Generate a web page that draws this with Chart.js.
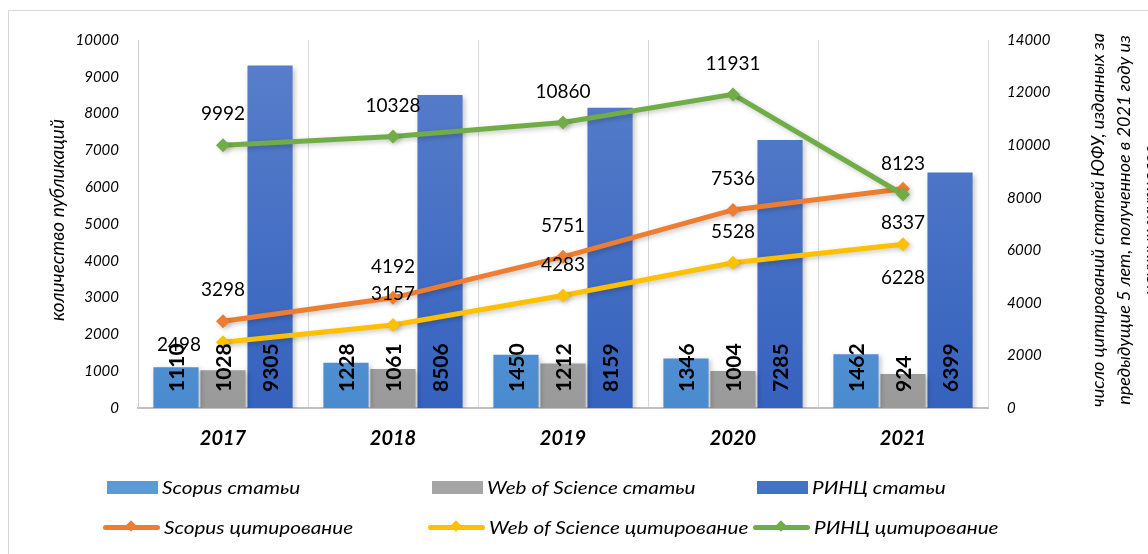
<!DOCTYPE html>
<html><head><meta charset="utf-8">
<script src="https://cdn.jsdelivr.net/npm/chart.js@4.4.1/dist/chart.umd.min.js"></script>
<style>
html,body{margin:0;padding:0;background:#fff;overflow:hidden;}
#wrap{position:relative;width:1148px;height:554px;overflow:hidden;}
#frame{position:absolute;left:8px;top:10px;width:1300px;height:700px;border:1px solid #d9d9d9;}
#c{position:absolute;left:0;top:0;}
#legend{position:absolute;left:0;top:0;width:1148px;height:554px;pointer-events:none;font-family:Lato,sans-serif;font-style:italic;font-size:18px;color:#000;}
.item{position:absolute;display:flex;align-items:center;white-space:nowrap;height:24px;}
.sw{display:inline-block;margin-right:4px;position:relative;}
.txt{display:inline-block;transform:scaleX(1.15);transform-origin:left center;}
</style></head>
<body>
<div id="wrap">
<div id="frame"></div>
<canvas id="c" width="1148" height="554"></canvas>
<div id="legend"></div>
</div>
<script>
const categories = ['2017', '2018', '2019', '2020', '2021'];
const scopusArticles = [1110, 1228, 1450, 1346, 1462];
const wosArticles = [1028, 1061, 1212, 1004, 924];
const rincArticles = [9305, 8506, 8159, 7285, 6399];
const scopusCitations = [3298, 4192, 5751, 7536, 8337];
const wosCitations = [2498, 3157, 4283, 5528, 6228];
const rincCitations = [9992, 10328, 10860, 11931, 8123];
const leftTitle = 'количество публикаций';
const rightTitle = ['число цитирований статей ЮФУ, изданных за', 'предыдущие 5 лет, полученное в 2021 году из', 'научных журналов'];
const leftMax = 10000, leftStep = 1000;
const rightMax = 14000, rightStep = 2000;

// label placement (style config)
const labelPlacement = {
  scopusCit: ['above', 'above', 'above', 'above', 'below'],
  wosCit: ['left', 'above', 'above', 'above', 'below'],
  rincCit: ['above', 'above', 'above', 'above', 'above']
};

function grad(stops) {
  return (c) => {
    const ca = c.chart.chartArea;
    if (!ca) return stops[1];
    const g = c.chart.ctx.createLinearGradient(0, ca.top, 0, ca.bottom);
    g.addColorStop(0, stops[0]);
    g.addColorStop(1, stops[1]);
    return g;
  };
}

const datasets = [
  { type: 'line', key: 'rincCit', label: 'РИНЦ цитирование', data: rincCitations, yAxisID: 'y1', borderColor: '#70AD47', backgroundColor: '#70AD47', order: 0 },
  { type: 'line', key: 'scopusCit', label: 'Scopus цитирование', data: scopusCitations, yAxisID: 'y1', borderColor: '#ED7D31', backgroundColor: '#ED7D31', order: 1 },
  { type: 'line', key: 'wosCit', label: 'Web of Science цитирование', data: wosCitations, yAxisID: 'y1', borderColor: '#FFC000', backgroundColor: '#FFC000', order: 2 },
  { type: 'bar', label: 'Scopus статьи', data: scopusArticles, yAxisID: 'y', backgroundColor: grad(['#6aa3dc', '#4a8bcf']), legendColor: '#5b9bd5', order: 10 },
  { type: 'bar', label: 'Web of Science статьи', data: wosArticles, yAxisID: 'y', backgroundColor: grad(['#b3b3b3', '#9a9a9a']), legendColor: '#a5a5a5', order: 11 },
  { type: 'bar', label: 'РИНЦ статьи', data: rincArticles, yAxisID: 'y', backgroundColor: grad(['#5a80cc', '#3562be']), legendColor: '#4472c4', order: 12 }
];
datasets.forEach(d => {
  if (d.type === 'line') {
    Object.assign(d, { borderWidth: 5, pointStyle: 'rectRot', pointRadius: 7, pointHoverRadius: 7, pointBorderWidth: 0, tension: 0, fill: false });
  } else {
    Object.assign(d, { categoryPercentage: 0.83, barPercentage: 0.96, borderWidth: 0 });
  }
});

const softShadow = {
  id: 'softShadow',
  beforeDatasetDraw(chart) {
    const ctx = chart.ctx;
    ctx.save();
    ctx.shadowColor = 'rgba(0,0,0,0.22)';
    ctx.shadowBlur = 5;
    ctx.shadowOffsetX = 2;
    ctx.shadowOffsetY = 2;
  },
  afterDatasetDraw(chart) {
    chart.ctx.restore();
  }
};

const barLabels = {
  id: 'barLabels',
  afterDatasetsDraw(chart) {
    const ctx = chart.ctx;
    ctx.save();
    chart.data.datasets.forEach((ds, i) => {
      const meta = chart.getDatasetMeta(i);
      if (ds.type === 'bar') {
        ctx.font = 'bold 21px Lato';
        ctx.fillStyle = '#000';
        ctx.textAlign = 'left';
        ctx.textBaseline = 'middle';
        meta.data.forEach((el, j) => {
          ctx.save();
          ctx.translate(el.x + 1, el.base - 16);
          ctx.rotate(-Math.PI / 2);
          ctx.fillText(String(ds.data[j]), 0, 0);
          ctx.restore();
        });
      }
    });
    chart.data.datasets.forEach((ds, i) => {
      const meta = chart.getDatasetMeta(i);
      if (ds.type === 'line') {
        ctx.font = '19px Lato';
        ctx.fillStyle = '#000';
        ctx.textAlign = 'center';
        ctx.textBaseline = 'middle';
        meta.data.forEach((el, j) => {
          const p = labelPlacement[ds.key][j];
          let x = el.x, y = el.y;
          if (p === 'above') y -= 31;
          else if (p === 'below') y += 34;
          else if (p === 'left') { x -= 44; y += 3; }
          ctx.fillText(String(ds.data[j]), x, y);
        });
      }
    });
    ctx.restore();
  }
};

const axisTitles = {
  id: 'axisTitles',
  afterDraw(chart) {
    const ctx = chart.ctx, ca = chart.chartArea;
    const cy = (ca.top + ca.bottom) / 2 - 4;
    ctx.save();
    ctx.fillStyle = '#000';
    ctx.textAlign = 'center';
    ctx.textBaseline = 'middle';
    ctx.font = 'italic 19px Lato';
    ctx.save();
    ctx.translate(ca.left - 80, cy);
    ctx.rotate(-Math.PI / 2);
    ctx.fillText(leftTitle, 0, 0);
    ctx.restore();
    ctx.font = 'italic 18px Lato';
    rightTitle.forEach((t, k) => {
      ctx.save();
      ctx.translate(ca.right + 110 + k * 26, cy);
      ctx.rotate(-Math.PI / 2);
      ctx.fillText(t, 0, 0);
      ctx.restore();
    });
    ctx.restore();
  }
};

const tickFont = { family: 'Lato', size: 15, style: 'italic' };
const plainNum = (v) => String(v);

const chart = new Chart(document.getElementById('c'), {
  data: { labels: categories, datasets },
  options: {
    responsive: false,
    animation: false,
    events: [],
    layout: { padding: { left: 0, right: 0, top: 40, bottom: 0 } },
    plugins: { legend: { display: false }, tooltip: { enabled: false } },
    scales: {
      x: {
        grid: { display: true, color: '#d9d9d9', lineWidth: 1, drawTicks: false, offset: true },
        border: { display: true, color: '#bfbfbf', width: 2 },
        ticks: { font: { family: 'Lato', size: 20, style: 'italic', weight: 'bold' }, color: '#000', padding: 19 },
        afterFit(s) { s.height = 146; }
      },
      y: {
        position: 'left', min: 0, max: leftMax,
        grid: { display: false, drawTicks: false },
        border: { display: true, color: '#d0d0d0', width: 1 },
        ticks: { stepSize: leftStep, font: tickFont, color: '#000', padding: 19, callback: plainNum },
        afterFit(s) { s.width = 138; }
      },
      y1: {
        position: 'right', min: 0, max: rightMax,
        grid: { display: false, drawTicks: false },
        border: { display: false },
        ticks: { stepSize: rightStep, font: tickFont, color: '#000', padding: 19, callback: plainNum },
        afterFit(s) { s.width = 160; }
      }
    }
  },
  plugins: [softShadow, barLabels, axisTitles]
});

// HTML legend built from datasets
const legendOrder = [3, 4, 5, 1, 2, 0];
const colX = [107, 432, 757];
const rowY = [475, 515];
const legendEl = document.getElementById('legend');
legendOrder.forEach((di, k) => {
  const ds = datasets[di];
  const item = document.createElement('div');
  item.className = 'item';
  item.style.left = (colX[k % 3] - (ds.type === 'line' ? 4 : 0)) + 'px';
  item.style.top = rowY[Math.floor(k / 3)] + 'px';
  const sw = document.createElement('span');
  sw.className = 'sw';
  if (ds.type === 'bar') {
    sw.style.width = '51px'; sw.style.height = '13px'; sw.style.background = ds.legendColor;
  } else {
    sw.style.width = '57px'; sw.style.height = '5px'; sw.style.background = ds.borderColor; sw.style.borderRadius = '3px';
    const d = document.createElement('span');
    d.style.cssText = 'position:absolute;left:24px;top:-3px;width:8px;height:8px;transform:rotate(45deg);background:' + ds.borderColor;
    sw.appendChild(d);
  }
  item.appendChild(sw);
  const t = document.createElement('span');
  t.className = 'txt';
  t.textContent = ds.label;
  item.appendChild(t);
  legendEl.appendChild(item);
});
</script>
</body></html>
